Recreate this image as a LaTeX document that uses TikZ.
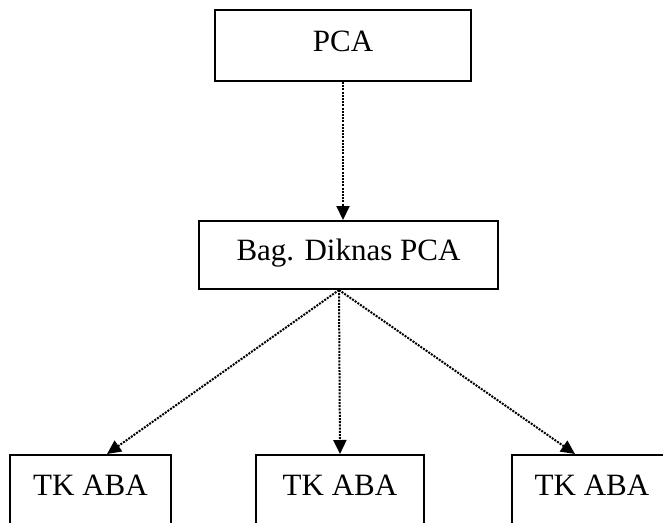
\documentclass[tikz,border=0pt]{standalone}
\usepackage{fontspec}
\setmainfont{Liberation Serif}
\usetikzlibrary{arrows.meta}
\begin{document}
\begin{tikzpicture}[x=1pt,y=-1pt,
  box/.style={draw=black,line width=2pt,rectangle,inner sep=0pt,anchor=north west,
    font=\fontsize{31}{36}\selectfont,text height=21pt},
  conn/.style={line width=2pt,dash pattern=on 2pt off 1.2pt,
    -{Triangle[length=14pt,width=13pt]}}]
\clip (0,0) rectangle (663,522);
\fill[white] (0,0) rectangle (663,522);
\node[box,minimum width=256pt,minimum height=71pt,text depth=9pt] (pca) at (214,9) {PCA};
\node[box,minimum width=299pt,minimum height=68pt,text depth=10pt] (bag) at (198,220) {Bag. Diknas PCA};
\node[box,minimum width=161pt,minimum height=90pt,text depth=30pt] (t1) at (9,454) {TK ABA};
\node[box,minimum width=168pt,minimum height=90pt,text depth=30pt] (t2) at (255,454) {TK ABA};
\node[box,minimum width=160pt,minimum height=90pt,text depth=30pt] (t3) at (511,454) {TK ABA};
\draw[conn] (pca.south) -- (bag.north -| pca.south);
\draw[conn] ([xshift=-9.5pt]bag.south) -- ([xshift=98pt]t1.north west);
\draw[conn] ([xshift=-9.5pt]bag.south) -- ([xshift=85pt]t2.north west);
\draw[conn] ([xshift=-9.5pt]bag.south) -- ([xshift=64pt]t3.north west);
\end{tikzpicture}
\end{document}
